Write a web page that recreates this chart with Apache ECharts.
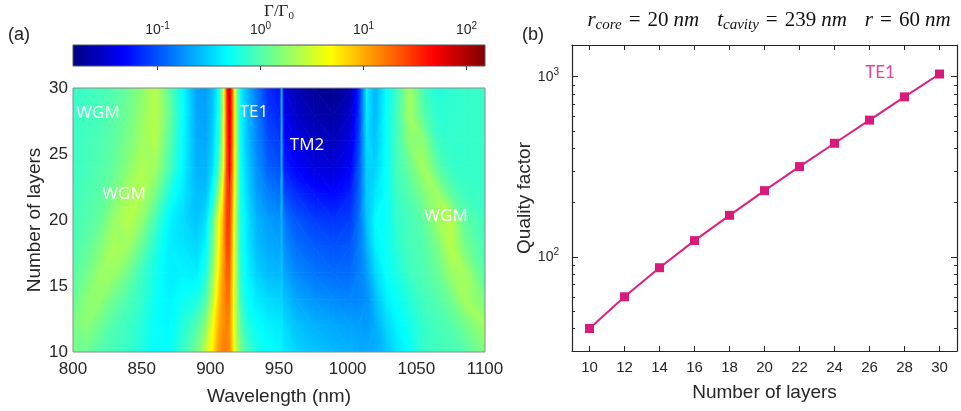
<!DOCTYPE html>
<html>
<head>
<meta charset="utf-8">
<script src="https://cdn.jsdelivr.net/npm/echarts@6/dist/echarts.min.js"></script>
<style>
html, body { margin: 0; padding: 0; background: #fff; }
#main { width: 961px; height: 411px; }
</style>
</head>
<body>
<div id="main"></div>
<script>
// (a) emission map, log10(Gamma/Gamma0)
const wavelengths = [800, 810, 820, 830, 840, 850, 860, 870, 880, 890, 897, 902, 906, 909, 912, 914, 916, 919, 922, 927,
  934, 942, 950.5, 952, 953.5, 962, 975, 990, 1002, 1008, 1014, 1020, 1028, 1036, 1045, 1055, 1065, 1075, 1085, 1100]
const layerRows = [10, 12, 14, 16, 18, 20, 22, 24, 26, 28, 30]
const logRate10 = [0.15, 0.10, 0.00, -0.05, -0.10, -0.20, -0.30, -0.30, -0.10, 0.12, 0.48, 0.78, 1.08, 1.18, 1.18, 1.12, 0.88, 0.42, 0.15, -0.05,
  -0.22, -0.30, -0.35, -0.35, -0.40, -0.48, -0.55, -0.60, -0.62, -0.64, -0.65, -0.65, -0.56, -0.42, -0.30, -0.12, -0.06, -0.05, 0.00, 0.18]
const logRate12 = [0.15, 0.22, 0.10, -0.02, -0.08, -0.18, -0.30, -0.34, -0.18, 0.00, 0.25, 0.68, 0.98, 1.12, 1.18, 1.12, 0.82, 0.35, 0.02, -0.18,
  -0.30, -0.36, -0.40, -0.40, -0.45, -0.55, -0.62, -0.66, -0.68, -0.70, -0.72, -0.64, -0.48, -0.36, -0.25, -0.12, -0.05, 0.00, 0.12, 0.30]
const logRate14 = [0.08, 0.22, 0.25, 0.10, -0.02, -0.12, -0.28, -0.36, -0.28, -0.22, 0.00, 0.45, 0.88, 1.10, 1.25, 1.20, 0.85, 0.32, -0.10, -0.30,
  -0.40, -0.46, -0.50, -0.48, -0.55, -0.66, -0.74, -0.78, -0.80, -0.80, -0.75, -0.58, -0.38, -0.28, -0.18, -0.06, 0.00, 0.12, 0.32, 0.15]
const logRate16 = [0.02, 0.12, 0.28, 0.28, 0.12, -0.08, -0.25, -0.38, -0.36, -0.38, -0.20, 0.30, 0.75, 1.05, 1.32, 1.28, 0.90, 0.30, -0.18, -0.36,
  -0.50, -0.58, -0.60, -0.56, -0.66, -0.78, -0.86, -0.90, -0.90, -0.82, -0.70, -0.48, -0.30, -0.22, -0.08, -0.02, 0.08, 0.28, 0.32, 0.00]
const logRate18 = [-0.02, 0.05, 0.18, 0.35, 0.30, 0.08, -0.18, -0.38, -0.42, -0.48, -0.32, 0.15, 0.65, 1.00, 1.40, 1.38, 0.95, 0.28, -0.22, -0.40,
  -0.58, -0.65, -0.68, -0.60, -0.75, -0.88, -0.96, -1.00, -0.98, -0.85, -0.62, -0.38, -0.28, -0.15, -0.05, 0.00, 0.15, 0.40, 0.15, -0.05]
const logRate20 = [-0.05, 0.00, 0.08, 0.28, 0.40, 0.25, -0.05, -0.35, -0.45, -0.55, -0.42, 0.05, 0.60, 0.95, 1.45, 1.45, 1.00, 0.25, -0.22, -0.42,
  -0.62, -0.70, -0.75, -0.62, -0.85, -0.98, -1.08, -1.12, -1.08, -0.88, -0.55, -0.33, -0.30, -0.12, -0.05, 0.05, 0.28, 0.40, 0.05, -0.08]
const logRate22 = [-0.08, -0.03, 0.03, 0.15, 0.32, 0.36, 0.15, -0.20, -0.40, -0.58, -0.55, -0.25, 0.25, 0.75, 1.42, 1.55, 1.10, 0.28, -0.25, -0.48,
  -0.70, -0.82, -0.88, -0.62, -1.02, -1.15, -1.25, -1.30, -1.20, -0.95, -0.52, -0.42, -0.30, -0.08, 0.00, 0.18, 0.30, 0.05, -0.08, -0.10]
const logRate24 = [-0.10, -0.05, 0.00, 0.08, 0.22, 0.36, 0.30, -0.02, -0.35, -0.62, -0.62, -0.42, -0.05, 0.50, 1.40, 1.72, 1.20, 0.30, -0.28, -0.52,
  -0.75, -0.95, -1.02, -0.62, -1.20, -1.32, -1.44, -1.48, -1.34, -1.00, -0.50, -0.50, -0.30, -0.05, 0.10, 0.32, 0.05, -0.10, -0.12, -0.10]
const logRate26 = [-0.10, -0.06, -0.02, 0.05, 0.16, 0.30, 0.38, 0.04, -0.32, -0.64, -0.66, -0.48, -0.18, 0.40, 1.40, 1.82, 1.25, 0.28, -0.30, -0.56,
  -0.80, -1.02, -1.10, -0.60, -1.28, -1.42, -1.54, -1.58, -1.42, -1.08, -0.45, -0.55, -0.30, -0.05, 0.22, 0.22, -0.08, -0.13, -0.12, -0.10]
const logRate28 = [-0.10, -0.07, -0.04, 0.02, 0.12, 0.26, 0.40, 0.10, -0.30, -0.66, -0.68, -0.52, -0.25, 0.35, 1.45, 1.90, 1.30, 0.25, -0.32, -0.58,
  -0.83, -1.10, -1.20, -0.58, -1.38, -1.52, -1.64, -1.68, -1.52, -1.15, -0.40, -0.60, -0.30, -0.05, 0.32, 0.02, -0.15, -0.14, -0.12, -0.10]
const logRate30 = [-0.10, -0.08, -0.05, 0.00, 0.10, 0.22, 0.40, 0.05, -0.32, -0.68, -0.70, -0.55, -0.30, 0.30, 1.50, 1.95, 1.30, 0.20, -0.35, -0.60,
  -0.85, -1.15, -1.25, -0.55, -1.45, -1.60, -1.72, -1.76, -1.62, -1.20, -0.35, -0.62, -0.32, -0.08, 0.32, -0.05, -0.18, -0.15, -0.12, -0.10]
const rateRows = [logRate10, logRate12, logRate14, logRate16, logRate18, logRate20, logRate22, logRate24, logRate26, logRate28, logRate30]

// colour bar range (log10)
const LOG_MIN = -1.82
const LOG_MAX = 2.18
const barMajor = [0.1, 1, 10, 100]
const barMinor = [0.02, 0.03, 0.04, 0.05, 0.06, 0.07, 0.08, 0.09, 0.2, 0.3, 0.4, 0.5, 0.6, 0.7, 0.8, 0.9,
  2, 3, 4, 5, 6, 7, 8, 9, 20, 30, 40, 50, 60, 70, 80, 90]

// (b) quality factor
const layers = [10, 12, 14, 16, 18, 20, 22, 24, 26, 28, 30]
const qualityFactor = [40, 60, 87, 123, 170, 233, 317, 427, 574, 773, 1035]
const qMajor = [100, 1000]
const qMinor = [40, 50, 60, 70, 80, 90, 200, 300, 400, 500, 600, 700, 800, 900]

const AXIS = '#262626'
const SANS = 'Liberation Sans'

function clamp (x) { return Math.max(0, Math.min(1, x)) }
function jet (v) {
  const t = clamp((v - LOG_MIN) / (LOG_MAX - LOG_MIN))
  const r = clamp(1.5 - Math.abs(4 * t - 3))
  const g = clamp(1.5 - Math.abs(4 * t - 2))
  const b = clamp(1.5 - Math.abs(4 * t - 1))
  return 'rgb(' + Math.round(r * 255) + ',' + Math.round(g * 255) + ',' + Math.round(b * 255) + ')'
}
const JET_BREAKS = [0.125, 0.375, 0.625, 0.875]
const jetStops = [
  { offset: 0, color: '#000080' }, { offset: 0.125, color: '#0000ff' }, { offset: 0.375, color: '#00ffff' },
  { offset: 0.625, color: '#ffff00' }, { offset: 0.875, color: '#ff0000' }, { offset: 1, color: '#800000' }
]

// interpolated shading of one triangle (like shading interp)
function shadeFill (p, v) {
  const x1 = p[1][0] - p[0][0]
  const y1 = p[1][1] - p[0][1]
  const x2 = p[2][0] - p[0][0]
  const y2 = p[2][1] - p[0][1]
  const d1 = v[1] - v[0]
  const d2 = v[2] - v[0]
  const det = x1 * y2 - x2 * y1
  if (Math.abs(det) < 1e-9) return jet((v[0] + v[1] + v[2]) / 3)
  const a = (d1 * y2 - d2 * y1) / det
  const b = (x1 * d2 - x2 * d1) / det
  const g2 = a * a + b * b
  let lo = 0
  let hi = 0
  for (let k = 1; k < 3; k++) {
    if (v[k] < v[lo]) lo = k
    if (v[k] > v[hi]) hi = k
  }
  const vmin = v[lo]
  const vmax = v[hi]
  if (vmax - vmin < 1e-6 || g2 < 1e-12) return jet(vmin)
  const s = (vmax - vmin) / g2
  const x0 = p[lo][0]
  const y0 = p[lo][1]
  const stops = [{ offset: 0, color: jet(vmin) }]
  JET_BREAKS.forEach(function (tb) {
    const vb = LOG_MIN + tb * (LOG_MAX - LOG_MIN)
    if (vb > vmin && vb < vmax) stops.push({ offset: (vb - vmin) / (vmax - vmin), color: jet(vb) })
  })
  stops.push({ offset: 1, color: jet(vmax) })
  return new echarts.graphic.LinearGradient(x0, y0, x0 + a * s, y0 + b * s, stops, true)
}

// quads: [lam0, lam1, L0, L1, v(lam0,L0), v(lam1,L0), v(lam0,L1), v(lam1,L1)]
const quads = []
for (let r = 0; r < layerRows.length - 1; r++) {
  for (let i = 0; i < wavelengths.length - 1; i++) {
    quads.push([wavelengths[i], wavelengths[i + 1], layerRows[r], layerRows[r + 1],
      rateRows[r][i], rateRows[r][i + 1], rateRows[r + 1][i], rateRows[r + 1][i + 1]])
  }
}

function renderQuad (params, api) {
  const l0 = api.value(0)
  const l1 = api.value(1)
  const n0 = api.value(2)
  const n1 = api.value(3)
  const v = [api.value(4), api.value(5), api.value(6), api.value(7)]
  const P = [api.coord([l0, n0]), api.coord([l1, n0]), api.coord([l0, n1]), api.coord([l1, n1])]
  const tris = Math.abs(v[0] - v[3]) <= Math.abs(v[1] - v[2]) ? [[0, 1, 3], [0, 3, 2]] : [[0, 1, 2], [1, 3, 2]]
  return {
    type: 'group',
    children: tris.map(function (t) {
      const pts = t.map(function (k) { return P[k] })
      const fill = shadeFill(pts, t.map(function (k) { return v[k] }))
      return { type: 'polygon', shape: { points: pts }, style: { fill: fill, stroke: fill, lineWidth: 0.8 } }
    })
  }
}

function renderBar (params, api) {
  const a = api.coord([api.value(0), api.value(3)])
  const b = api.coord([api.value(1), api.value(2)])
  return {
    type: 'rect',
    shape: { x: a[0], y: a[1], width: b[0] - a[0], height: b[1] - a[1] },
    style: { fill: new echarts.graphic.LinearGradient(0, 0, 1, 0, jetStops) }
  }
}

function powLabel (v) {
  return '10{sup|' + Math.round(Math.log10(v)) + '}'
}

function qAxis (pos, values, len, labels) {
  return {
    type: 'log',
    gridIndex: 2,
    position: pos,
    min: 30,
    max: 1500,
    axisLine: { show: labels !== null, onZero: false, lineStyle: { color: AXIS, width: 1.2 } },
    axisTick: { show: true, inside: true, length: len, customValues: values, lineStyle: { color: AXIS, width: 1 } },
    axisLabel: labels ? {
      show: true,
      customValues: values,
      margin: 13,
      fontFamily: SANS,
      fontSize: 14,
      color: AXIS,
      formatter: powLabel,
      rich: { sup: { fontSize: 10, fontFamily: SANS, color: AXIS, padding: [0, 0, 9, 0] } }
    } : { show: false },
    splitLine: { show: false },
    name: pos === 'left' && labels ? 'Quality factor' : '',
    nameLocation: 'middle',
    nameGap: 35,
    nameTextStyle: { fontFamily: SANS, fontSize: 19, color: AXIS }
  }
}

var chart = echarts.init(document.getElementById('main'))
var option = {
  animation: false,
  backgroundColor: '#fff',
  grid: [
    { left: 73, top: 88, width: 412, height: 264, show: true, z: 5, backgroundColor: 'transparent', borderColor: '#8a8a8a', borderWidth: 1 },
    { left: 73, top: 45, width: 412, height: 21, show: true, z: 5, backgroundColor: 'transparent', borderColor: '#555', borderWidth: 1 },
    { left: 572, top: 45, width: 385, height: 306 }
  ],
  xAxis: [
    {
      type: 'value', gridIndex: 0, min: 800, max: 1100, interval: 50,
      axisLine: { show: false }, axisTick: { show: false }, splitLine: { show: false },
      axisLabel: { fontFamily: SANS, fontSize: 17, color: AXIS, margin: 9, formatter: function (v) { return String(v) } },
      name: 'Wavelength (nm)', nameLocation: 'middle', nameGap: 35,
      nameTextStyle: { fontFamily: SANS, fontSize: 19, color: AXIS }
    },
    {
      type: 'log', gridIndex: 1, position: 'top', min: Math.pow(10, LOG_MIN), max: Math.pow(10, LOG_MAX),
      axisLine: { show: false }, splitLine: { show: false },
      axisTick: { show: true, inside: true, length: 4, customValues: barMajor, lineStyle: { color: '#333' } },
      axisLabel: {
        customValues: barMajor, margin: 6, fontFamily: SANS, fontSize: 14, color: AXIS, formatter: powLabel,
        rich: { sup: { fontSize: 10, fontFamily: SANS, color: AXIS, padding: [0, 0, 8, 0] } }
      }
    },
    {
      type: 'log', gridIndex: 1, position: 'top', min: Math.pow(10, LOG_MIN), max: Math.pow(10, LOG_MAX),
      axisLine: { show: false }, splitLine: { show: false }, axisLabel: { show: false },
      axisTick: { show: true, inside: true, length: 2.5, customValues: barMinor, lineStyle: { color: '#333' } }
    },
    {
      type: 'value', gridIndex: 2, position: 'bottom', min: 9, max: 31,
      axisLine: { show: true, onZero: false, lineStyle: { color: AXIS, width: 1.2 } },
      axisTick: { show: true, inside: true, length: 5, customValues: layers, lineStyle: { color: AXIS } },
      axisLabel: { customValues: layers, fontFamily: SANS, fontSize: 15, color: AXIS, margin: 9 },
      splitLine: { show: false },
      name: 'Number of layers', nameLocation: 'middle', nameGap: 32,
      nameTextStyle: { fontFamily: SANS, fontSize: 19, color: AXIS }
    },
    {
      type: 'value', gridIndex: 2, position: 'top', min: 9, max: 31,
      axisLine: { show: true, onZero: false, lineStyle: { color: AXIS, width: 1.2 } },
      axisTick: { show: true, inside: true, length: 5, customValues: layers, lineStyle: { color: AXIS } },
      axisLabel: { show: false }, splitLine: { show: false }
    }
  ],
  yAxis: [
    {
      type: 'value', gridIndex: 0, min: 10, max: 30, interval: 5,
      axisLine: { show: false }, axisTick: { show: false }, splitLine: { show: false },
      axisLabel: { fontFamily: SANS, fontSize: 17, color: AXIS, margin: 5 },
      name: 'Number of layers', nameLocation: 'middle', nameGap: 29,
      nameTextStyle: { fontFamily: SANS, fontSize: 19, color: AXIS }
    },
    { type: 'value', gridIndex: 1, min: 0, max: 1, show: false },
    qAxis('left', qMajor, 6, true),
    qAxis('right', qMajor, 6, false),
    qAxis('left', qMinor, 3, null),
    qAxis('right', qMinor, 3, null)
  ],
  series: [
    {
      type: 'custom', xAxisIndex: 0, yAxisIndex: 0, z: 1, clip: true,
      renderItem: renderQuad, encode: { x: [0, 1], y: [2, 3] }, data: quads, silent: true
    },
    {
      type: 'custom', xAxisIndex: 1, yAxisIndex: 1, z: 1,
      renderItem: renderBar, encode: { x: [0, 1], y: [2, 3] },
      data: [[Math.pow(10, LOG_MIN), Math.pow(10, LOG_MAX), 0, 1]], silent: true
    },
    {
      type: 'line', xAxisIndex: 3, yAxisIndex: 2, z: 3,
      data: layers.map(function (l, i) { return [l, qualityFactor[i]] }),
      symbol: 'rect', symbolSize: 9,
      lineStyle: { color: '#de1f80', width: 2 },
      itemStyle: { color: '#d81b7a' }
    }
  ],
  graphic: [
    { type: 'text', left: 8, top: 26, z: 100, style: { text: '(a)', font: '18px "Liberation Sans"', fill: '#222' } },
    { type: 'text', left: 522, top: 26, z: 100, style: { text: '(b)', font: '18px "Liberation Sans"', fill: '#222' } },
    {
      type: 'text', x: 279, y: 12, z: 100,
      style: {
        text: '{g|Γ/Γ}{s|0}', align: 'center', verticalAlign: 'middle',
        rich: {
          g: { fontFamily: 'Liberation Serif', fontSize: 17, fill: '#222' },
          s: { fontFamily: 'Liberation Serif', fontSize: 11, fill: '#222', padding: [8, 0, 0, 0] }
        }
      }
    },
    {
      type: 'text', x: 769, y: 20, z: 100,
      style: {
        text: '{i|r}{s|core}{e|=}{n|20}{i|nm}{g| }{i|t}{s|cavity}{e|=}{n|239}{i|nm}{g| }{i|r}{e|=}{n|60}{i|nm}',
        align: 'center', verticalAlign: 'middle',
        rich: {
          i: { fontFamily: 'Liberation Serif', fontStyle: 'italic', fontSize: 21, fill: '#111' },
          n: { fontFamily: 'Liberation Serif', fontSize: 21, fill: '#111', padding: [0, 5, 0, 0] },
          e: { fontFamily: 'Liberation Serif', fontSize: 21, fill: '#111', padding: [0, 7, 0, 7] },
          g: { fontFamily: 'Liberation Serif', fontSize: 21, width: 18 },
          s: { fontFamily: 'Liberation Serif', fontStyle: 'italic', fontSize: 15, fill: '#111', padding: [10, 0, 0, 0] }
        }
      }
    },
    { type: 'text', x: 880, y: 73, z: 100, style: { text: 'TE1', align: 'center', verticalAlign: 'middle', font: '17px Lato', fill: '#e6449a' } },
    { type: 'text', x: 98, y: 113, z: 100, style: { text: 'WGM', align: 'center', verticalAlign: 'middle', font: '17px "Open Sans"', fill: '#fff' } },
    { type: 'text', x: 254, y: 112, z: 100, style: { text: 'TE1', align: 'center', verticalAlign: 'middle', font: '17px "Open Sans"', fill: '#fff' } },
    { type: 'text', x: 307, y: 145, z: 100, style: { text: 'TM2', align: 'center', verticalAlign: 'middle', font: '17px "Open Sans"', fill: '#fff' } },
    { type: 'text', x: 124, y: 194, z: 100, style: { text: 'WGM', align: 'center', verticalAlign: 'middle', font: '17px "Open Sans"', fill: '#fff' } },
    { type: 'text', x: 446, y: 216, z: 100, style: { text: 'WGM', align: 'center', verticalAlign: 'middle', font: '17px "Open Sans"', fill: '#fff' } }
  ]
}
option && chart.setOption(option)
</script>
</body>
</html>
